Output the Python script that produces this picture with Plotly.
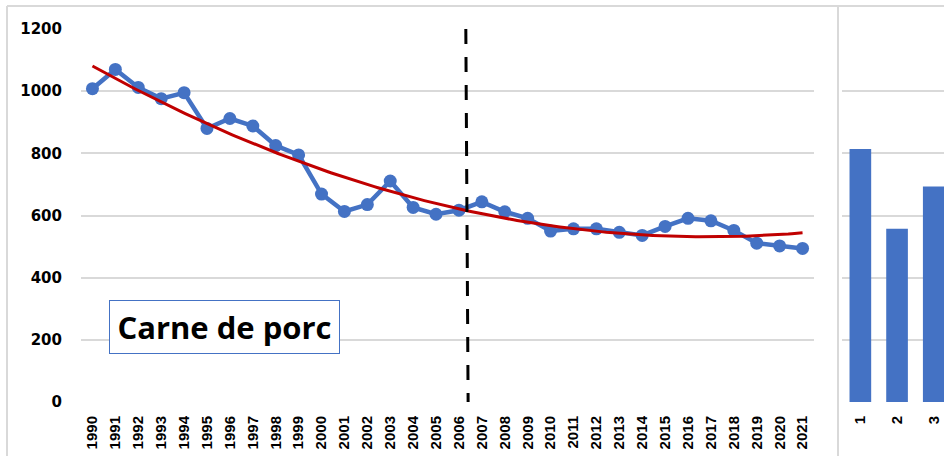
import numpy as np
import plotly.graph_objects as go

# consommation de viande de porc, 1990-2021
years = list(range(1990, 2022))
pork = [1008, 1070, 1012, 976, 995, 880, 912, 888, 825, 795,
        669, 613, 635, 711, 626, 604, 617, 644, 612, 591,
        550, 557, 557, 546, 536, 565, 591, 583, 552, 511,
        502, 494]

# petit graphique de droite (coupe)
bar_cats = [1, 2, 3]
bar_vals = [814, 557, 693]
bar_labels = ["1", "2", "3"]

y_ticks = [0, 200, 400, 600, 800, 1000, 1200]
split_year = [2006.3, 2006.4]

BLUE = "#4472C4"
RED = "#C00000"
GRID = "#D9D9D9"

# tendance polynomiale d'ordre 2 (comme la courbe Excel)
coef = np.polyfit(years, pork, 2)
trend_x = np.linspace(years[0], years[-1], 200)
trend_y = np.polyval(coef, trend_x)

fig = go.Figure()

fig.add_trace(
    go.Scatter(
        x=years,
        y=pork,
        mode="lines+markers",
        line=dict(color=BLUE, width=4.5),
        marker=dict(color=BLUE, size=13),
        xaxis="x",
        yaxis="y",
    )
)

fig.add_trace(
    go.Scatter(
        x=trend_x,
        y=trend_y,
        mode="lines",
        line=dict(color=RED, width=3),
        xaxis="x",
        yaxis="y",
    )
)

fig.add_trace(
    go.Bar(
        x=bar_cats,
        y=bar_vals,
        width=0.59,
        marker=dict(color=BLUE, line=dict(width=0)),
        xaxis="x2",
        yaxis="y2",
    )
)

# ligne verticale en pointilles
fig.add_shape(
    type="line",
    xref="x", yref="y",
    x0=split_year[0], x1=split_year[1],
    y0=y_ticks[-1], y1=y_ticks[0],
    line=dict(color="black", width=3, dash="15px,13px"),
)

# bordures des zones de graphique
border = dict(color=GRID, width=2)
fig.add_shape(type="line", xref="paper", yref="paper",
              x0=7 / 944, x1=1, y0=1 - 6 / 456, y1=1 - 6 / 456, line=border)
fig.add_shape(type="line", xref="paper", yref="paper",
              x0=7 / 944, x1=7 / 944, y0=0, y1=1 - 6 / 456, line=border)
fig.add_shape(type="line", xref="paper", yref="paper",
              x0=838 / 944, x1=838 / 944, y0=0, y1=1 - 6 / 456, line=border)

fig.add_annotation(
    x=1995.77, y=240, xref="x", yref="y",
    text="Carne de porc",
    showarrow=False,
    font=dict(family="Open Sans", size=31, color="black", weight="bold"),
    bgcolor="white",
    bordercolor=BLUE,
    borderwidth=1,
    borderpad=0,
    width=229,
    height=52,
)

ydom = [(456 - 402) / 456, (456 - 29) / 456]

fig.update_layout(
    width=944,
    height=456,
    margin=dict(l=0, r=0, t=0, b=0),
    paper_bgcolor="white",
    plot_bgcolor="white",
    showlegend=False,
    xaxis=dict(
        domain=[81 / 944, 814 / 944],
        range=[1989.5, 2021.5],
        tickvals=years,
        ticktext=[str(y) for y in years],
        tickangle=-90,
        tickfont=dict(family="Liberation Sans", size=15, color="black", weight="bold"),
        showgrid=False,
        zeroline=False,
        ticks="",
        ticklabelstandoff=10,
        automargin=False,
    ),
    yaxis=dict(
        domain=ydom,
        range=[0, 1200],
        tickvals=y_ticks,
        tickfont=dict(family="DejaVu Sans", size=15, color="black", weight="bold"),
        gridcolor=GRID,
        gridwidth=1.5,
        zeroline=False,
        ticks="",
        ticklabelstandoff=18,
        automargin=False,
    ),
    xaxis2=dict(
        domain=[842 / 944, 1],
        range=[0.5, 0.5 + 102 / 36.7],
        tickvals=bar_cats,
        ticktext=bar_labels,
        tickangle=-90,
        tickfont=dict(family="Liberation Sans", size=15, color="black", weight="bold"),
        showgrid=False,
        zeroline=False,
        ticks="",
        ticklabelstandoff=10,
        anchor="y2",
        automargin=False,
    ),
    yaxis2=dict(
        domain=ydom,
        range=[0, 1200],
        tickvals=y_ticks,
        showticklabels=False,
        gridcolor=GRID,
        gridwidth=1.5,
        zeroline=False,
        ticks="",
        anchor="x2",
        automargin=False,
    ),
)

fig.write_html(
    "out.html",
    config={"displayModeBar": False},
    post_script="document.body.style.margin='0';document.body.style.overflow='hidden';",
)
